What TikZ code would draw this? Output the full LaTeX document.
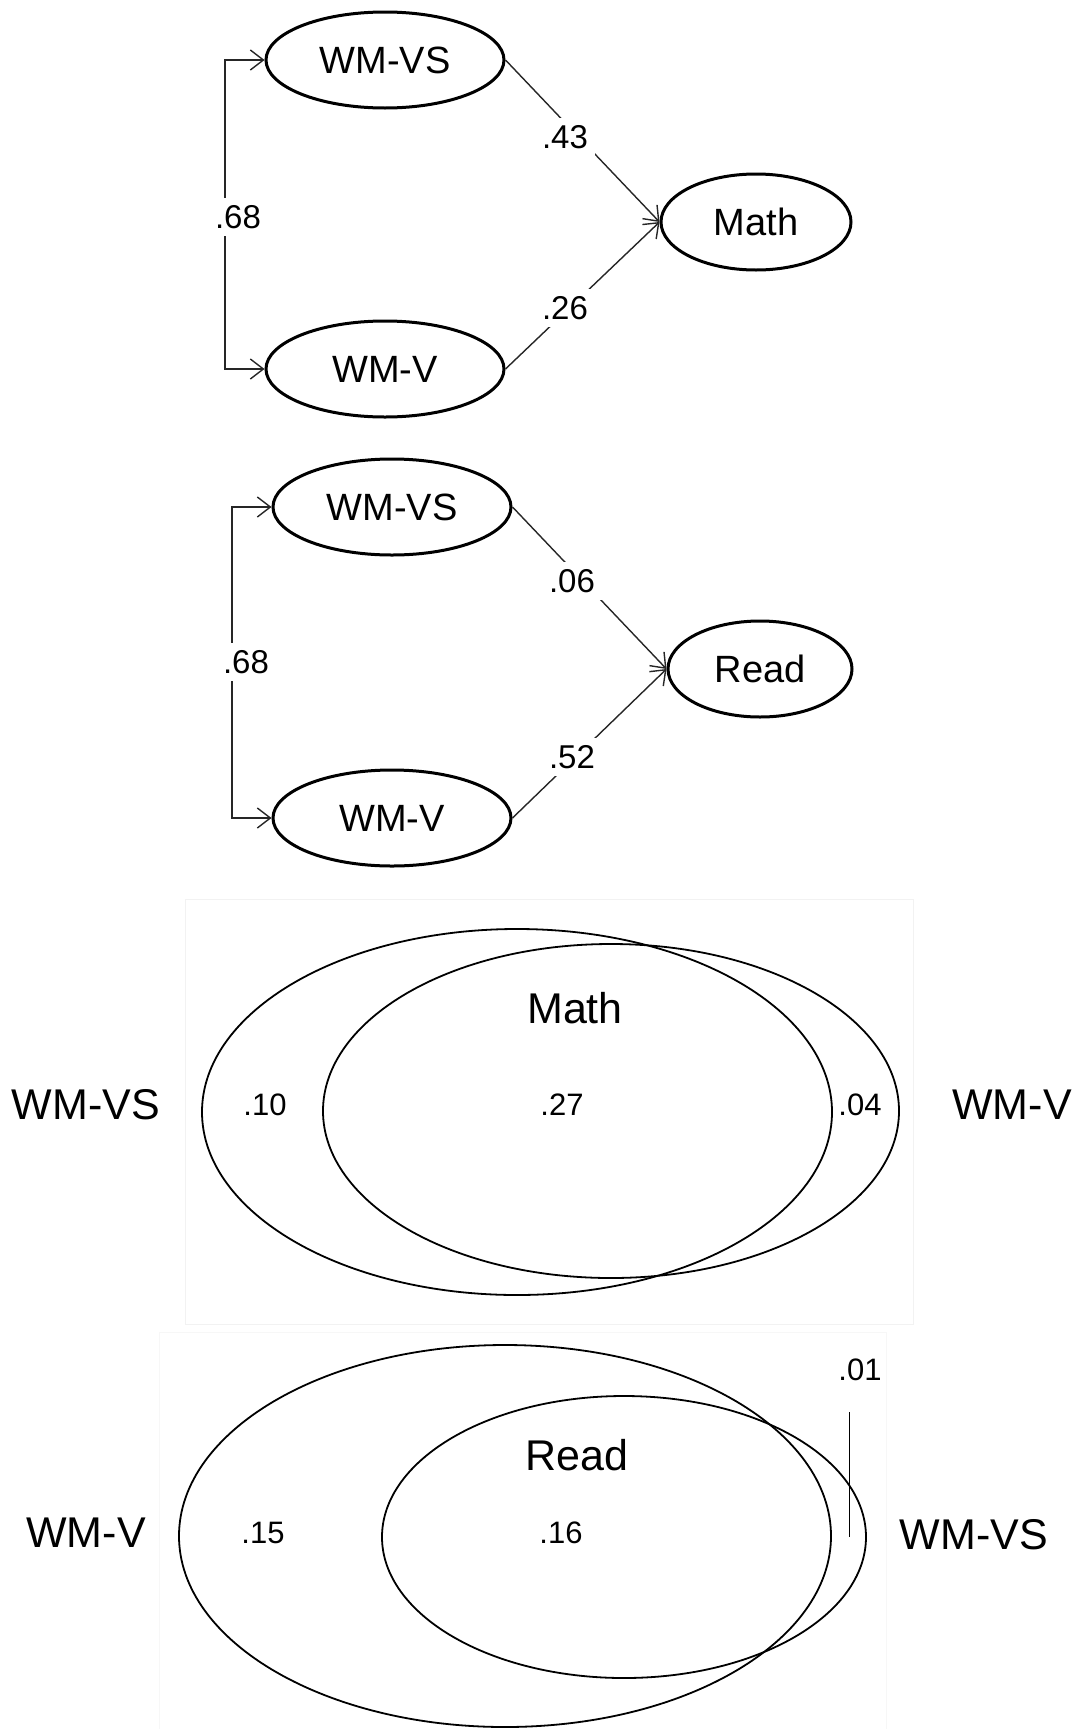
\documentclass[tikz,border=0pt]{standalone}
\usepackage{fontspec}
\setmainfont{Liberation Sans}
\usetikzlibrary{shapes.geometric,arrows.meta}

\begin{document}
\begin{tikzpicture}[x=1pt,y=-1pt,
    var/.style={ellipse, draw, line width=3pt, minimum width=238pt, minimum height=96pt,
      inner sep=0pt, font=\fontsize{38}{42}\selectfont},
    outcome/.style={var, minimum width=190pt},
    arr/.style={-{Straight Barb[length=13pt,width=20pt]}, line width=1.4pt, black!85},
    coef/.style={fill=white, inner sep=7pt, font=\fontsize{33}{36}\selectfont},
    venn/.style={line width=1.8pt},
    frame/.style={black!5, line width=1pt},
    biglabel/.style={font=\fontsize{43}{48}\selectfont},
    share/.style={font=\fontsize{31}{36}\selectfont}]

  \useasboundingbox (0,0) rectangle (1083,1729);

  % model for Math
  \node[var] (vsm) at (385,60) {WM-VS};
  \node[var] (vm) at (385,369) {WM-V};
  \node[outcome] (math) at (756,222) {Math};
  \coordinate (corm) at (225,217);
  \draw[arr] (corm) |- (vsm.west);
  \draw[arr] (corm) |- (vm.west);
  \draw[arr] (vsm.east) -- (math.west);
  \draw[arr] (vm.east) -- (math.west);
  \node[coef] (cm) at (238,217) {.68};
  \node[coef] (pvsm) at (565,137) {.43};
  \node[coef] (pvm) at (565,308) {.26};

  % model for Read
  \node[var] (vsr) at (392,507) {WM-VS};
  \node[var] (vr) at (392,818) {WM-V};
  \node[outcome, minimum width=184pt] (read) at (760,669) {Read};
  \coordinate (corr) at (232,662);
  \draw[arr] (corr) |- (vsr.west);
  \draw[arr] (corr) |- (vr.west);
  \draw[arr] (vsr.east) -- (read.west);
  \draw[arr] (vr.east) -- (read.west);
  \node[coef] (cr) at (246,662) {.68};
  \node[coef] (pvsr) at (572,581) {.06};
  \node[coef] (pvr) at (572,757) {.52};

  % shared variance, Math
  \draw[frame] (185,899) rectangle (913,1324);
  \draw[venn] (517,1112) ellipse [x radius=315pt, y radius=183pt];
  \draw[venn] (611,1111) ellipse [x radius=288pt, y radius=167pt];
  \node[biglabel] (vsa) at (86,1105) {WM-VS};
  \node[biglabel] (va) at (1012,1105) {WM-V};
  \node[biglabel] (ma) at (575,1008) {Math};
  \node[share] (sa1) at (265,1105) {.10};
  \node[share] (sa2) at (562,1105) {.27};
  \node[share] (sa3) at (860,1105) {.04};

  % shared variance, Read
  \draw[frame, black!3] (159,1729) |- (886,1332) -- (886,1729);
  \draw[venn] (505,1536) ellipse [x radius=326pt, y radius=191pt];
  \draw[venn] (624,1537) ellipse [x radius=242pt, y radius=141pt];
  \node[biglabel] (vb) at (86,1533) {WM-V};
  \node[biglabel] (vsb) at (974,1535) {WM-VS};
  \node[biglabel] (rb) at (577,1455) {Read};
  \node[share] (sb1) at (263,1533) {.15};
  \node[share] (sb2) at (561,1533) {.16};
  \node[share] (sb3) at (860,1370) {.01};
  \coordinate (tickup) at (849,1412);
  \coordinate (tick) at (849,1537);
  \draw[line width=1pt] (tickup) -- (tick);
\end{tikzpicture}
\end{document}
